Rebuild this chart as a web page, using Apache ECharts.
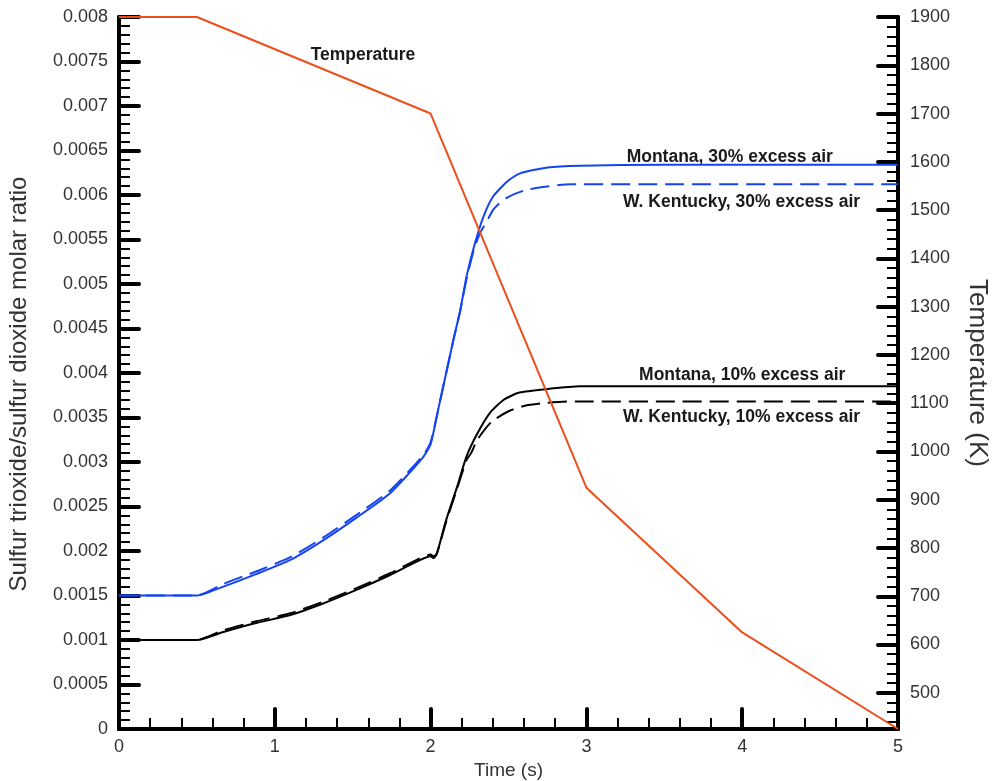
<!DOCTYPE html>
<html>
<head>
<meta charset="utf-8">
<script src="https://cdn.jsdelivr.net/npm/echarts@6/dist/echarts.min.js"></script>
<style>
html,body{margin:0;padding:0;background:#fff;}
#main{width:993px;height:781px;}
</style>
</head>
<body>
<div id="main"></div>
<script>
// ---- data ----
const montana30T = [0, 0.5, 0.67, 0.88, 1.1, 1.31, 1.52, 1.74, 1.95, 2.0, 2.05, 2.1, 2.15, 2.19, 2.23, 2.285, 2.34, 2.4, 2.49, 2.57, 2.75, 2.96, 3.5, 5];
const montana30V = [0.0015, 0.0015, 0.0016, 0.00174, 0.0019, 0.00212, 0.00237, 0.00265, 0.00305, 0.0032, 0.0036, 0.0040, 0.0044, 0.0047, 0.00508, 0.00546, 0.00576, 0.00598, 0.00615, 0.00624, 0.00631, 0.00633, 0.00634, 0.00634];

const kentucky30T = [0, 0.5, 0.67, 0.88, 1.1, 1.31, 1.52, 1.74, 1.95, 2.0, 2.05, 2.1, 2.15, 2.19, 2.23, 2.28, 2.32, 2.36, 2.4, 2.45, 2.5, 2.6, 2.72, 2.9, 3.5, 5];
const kentucky30V = [0.0015, 0.0015, 0.00163, 0.00177, 0.00193, 0.00215, 0.0024, 0.00268, 0.00307, 0.00322, 0.0036, 0.0040, 0.0044, 0.0047, 0.00505, 0.0054, 0.00558, 0.0057, 0.00583, 0.00592, 0.00598, 0.00605, 0.00609, 0.00612, 0.00612, 0.00612];

const montana10T = [0, 0.5, 0.67, 0.88, 1.1, 1.31, 1.52, 1.74, 1.91, 2.0, 2.02, 2.04, 2.1, 2.17, 2.23, 2.3, 2.38, 2.47, 2.57, 2.75, 2.96, 3.5, 5];
const montana10V = [0.001, 0.001, 0.00109, 0.00119, 0.00128, 0.00141, 0.00156, 0.00173, 0.00188, 0.00194, 0.00192, 0.00197, 0.00235, 0.00272, 0.00306, 0.00332, 0.00355, 0.0037, 0.00378, 0.00382, 0.00385, 0.00385, 0.00385];

const kentucky10T = [0, 0.5, 0.67, 0.88, 1.1, 1.31, 1.52, 1.74, 1.91, 2.0, 2.02, 2.04, 2.1, 2.17, 2.23, 2.26, 2.3, 2.39, 2.5, 2.6, 2.72, 2.9, 3.5, 5];
const kentucky10V = [0.001, 0.001, 0.00111, 0.00121, 0.0013, 0.00143, 0.00158, 0.00175, 0.0019, 0.00196, 0.00194, 0.00197, 0.00233, 0.0027, 0.00302, 0.0031, 0.00325, 0.00345, 0.00357, 0.00363, 0.00366, 0.00368, 0.00368, 0.00368];

const tempT = [0, 0.5, 2, 3, 4, 5];
const tempV = [1900, 1900, 1700, 925, 625, 425];

const tempMajorTicks = [500, 600, 700, 800, 900, 1000, 1100, 1200, 1300, 1400, 1500, 1600, 1700, 1800, 1900];
const tempMinorTicks = [440, 460, 480, 520, 540, 560, 580, 620, 640, 660, 680, 720, 740, 760, 780, 820, 840, 860, 880,
  920, 940, 960, 980, 1020, 1040, 1060, 1080, 1120, 1140, 1160, 1180, 1220, 1240, 1260, 1280, 1320, 1340, 1360, 1380,
  1420, 1440, 1460, 1480, 1520, 1540, 1560, 1580, 1620, 1640, 1660, 1680, 1720, 1740, 1760, 1780, 1820, 1840, 1860, 1880];

const seriesLabels = [
  { text: 'Temperature', t: 1.566, y: 0.00757 },
  { text: 'Montana, 30% excess air', t: 3.92, y: 0.00643 },
  { text: 'W. Kentucky, 30% excess air', t: 3.996, y: 0.00592 },
  { text: 'Montana, 10% excess air', t: 4.0, y: 0.00398 },
  { text: 'W. Kentucky, 10% excess air', t: 3.996, y: 0.00350 }
];

function zip(a, b) { return a.map((x, i) => [x, b[i]]); }

const FONT = '"Liberation Sans", Arial, Helvetica, sans-serif';
const chart = echarts.init(document.getElementById('main'));

const majorTick = { show: true, inside: true, length: 20, lineStyle: { color: '#000', width: 4, cap: 'round' } };
const minorTick = { show: true, splitNumber: 5, length: 11, lineStyle: { color: '#000', width: 2 } };
const axLine = { show: true, onZero: false, lineStyle: { color: '#000', width: 4 } };
const axLabel = { color: '#333', fontSize: 18, fontFamily: FONT };

const option = {
  animation: false,
  backgroundColor: '#fff',
  grid: { left: 119, right: 95, top: 17, bottom: 52, containLabel: false, outerBoundsMode: 'none' },
  xAxis: {
    type: 'value', min: 0, max: 5, interval: 1,
    name: 'Time (s)', nameLocation: 'middle', nameGap: 27,
    nameTextStyle: { color: '#333', fontSize: 19, fontFamily: FONT },
    axisLine: axLine, axisTick: majorTick, minorTick: minorTick,
    axisLabel: Object.assign({ margin: 9 }, axLabel),
    splitLine: { show: false }
  },
  yAxis: [
    {
      type: 'value', min: 0, max: 0.008, interval: 0.0005, position: 'left',
      name: 'Sulfur trioxide/sulfur dioxide molar ratio', nameLocation: 'middle', nameGap: 88,
      nameTextStyle: { color: '#333', fontSize: 24, fontFamily: FONT, padding: [0, 22, 0, 0] },
      axisLine: axLine, axisTick: majorTick, minorTick: minorTick,
      axisLabel: Object.assign({ margin: 11 }, axLabel),
      splitLine: { show: false }
    },
    {
      type: 'value', min: 425, max: 1900, position: 'right',
      name: 'Temperature (K)', nameLocation: 'middle', nameGap: 66, nameRotate: -90,
      nameTextStyle: { color: '#333', fontSize: 26, fontFamily: FONT },
      axisLine: axLine,
      axisTick: Object.assign({}, majorTick, { customValues: tempMajorTicks }),
      axisLabel: Object.assign({ margin: 12, customValues: tempMajorTicks, formatter: v => String(v) }, axLabel),
      splitLine: { show: false }
    },
    {
      type: 'value', min: 425, max: 1900, position: 'right', offset: 0,
      axisLine: { show: false, onZero: false },
      axisTick: { show: true, inside: true, length: 11, customValues: tempMinorTicks, lineStyle: { color: '#000', width: 2 } },
      axisLabel: { show: false, customValues: tempMinorTicks },
      splitLine: { show: false }
    }
  ],
  series: [
    { name: 'Montana, 30% excess air', type: 'line', yAxisIndex: 0, showSymbol: false, smooth: 0.2,
      data: zip(montana30T, montana30V), lineStyle: { color: '#1444F2', width: 2 } },
    { name: 'W. Kentucky, 30% excess air', type: 'line', yAxisIndex: 0, showSymbol: false, smooth: 0.2,
      data: zip(kentucky30T, kentucky30V), lineStyle: { color: '#1444F2', width: 2, type: [19, 8] } },
    { name: 'Montana, 10% excess air', type: 'line', yAxisIndex: 0, showSymbol: false, smooth: 0.2,
      data: zip(montana10T, montana10V), lineStyle: { color: '#000', width: 2 } },
    { name: 'W. Kentucky, 10% excess air', type: 'line', yAxisIndex: 0, showSymbol: false, smooth: 0.2,
      data: zip(kentucky10T, kentucky10V), lineStyle: { color: '#000', width: 2, type: [19, 8] } },
    { name: 'Temperature', type: 'line', yAxisIndex: 1, showSymbol: false,
      data: zip(tempT, tempV), lineStyle: { color: '#EC4E1C', width: 2 } }
  ]
};
chart.setOption(option);

const graphics = seriesLabels.map(l => {
  const p = chart.convertToPixel({ xAxisIndex: 0, yAxisIndex: 0 }, [l.t, l.y]);
  return { type: 'text', x: p[0], y: p[1],
    style: { text: l.text, font: 'bold 17.5px ' + FONT, fill: '#1a1a1a', align: 'center', verticalAlign: 'middle' } };
});
chart.setOption({ graphic: graphics });
</script>
</body>
</html>
